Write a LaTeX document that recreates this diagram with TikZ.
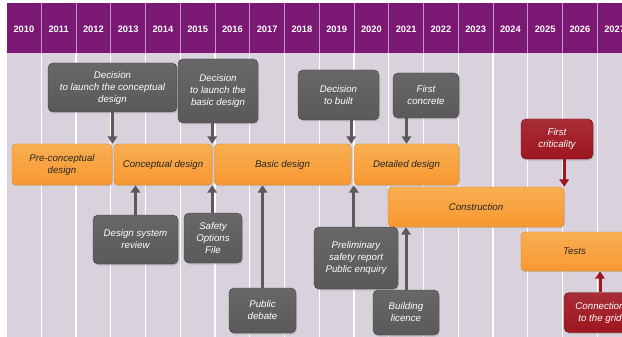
\documentclass[tikz,border=0pt]{standalone}
\usepackage{fontspec}
\setmainfont{Liberation Sans}
\usepackage{tikz}
\usetikzlibrary{arrows.meta,shadows}
\definecolor{bandpurple}{HTML}{7B1874}
\definecolor{bglilac}{HTML}{D9D1DB}
\definecolor{boxgray}{HTML}{5A5A5A}
\definecolor{phaseorange}{HTML}{F7A033}
\definecolor{keyred}{HTML}{9E1620}

\begin{document}
\begin{tikzpicture}[x=1pt,y=-1pt,
    every node/.style={font=\fontsize{9.7}{12}\selectfont\itshape, align=center, inner sep=2pt},
    year/.style={font=\fontsize{9.3}{11}\selectfont\bfseries, text=white},
    phase/.style={rectangle, rounded corners=4pt, draw=phaseorange!85!black, top color=phaseorange!85!white, bottom color=phaseorange!95!red, text=black!85, drop shadow={opacity=0.25, shadow xshift=0.8pt, shadow yshift=-1.2pt}},
    event/.style={rectangle, rounded corners=5pt, draw=boxgray!70!black, top color=boxgray!92!white, bottom color=boxgray, text=white, drop shadow={opacity=0.3, shadow xshift=1pt, shadow yshift=-1.5pt}},
    keyevent/.style={event, draw=keyred!70!black, top color=keyred!90!white, bottom color=keyred},
    link/.style={draw=boxgray, line width=3pt, -{Triangle[width=9.5pt,length=7.5pt]}},
    keylink/.style={link, draw=keyred}]
                            \useasboundingbox (0,0) rectangle (622,337);
                            \clip (0,0) rectangle (622,337);
                            % Background
                            \fill[bglilac] (7,53) rectangle (622,337);
                            \fill[bandpurple] (7,3) rectangle (622,53);
                            \foreach \k in {1,...,17} {
                              \draw[white, line width=1pt, opacity=0.55] ({6.5+34.75*\k},3) -- ({6.5+34.75*\k},53);
                              \draw[white, line width=1.3pt] ({6.5+34.75*\k},53) -- ({6.5+34.75*\k},337);
                            }
                            % Years
                            \foreach \y [count=\k from 0] in {2010,...,2027} {
                              \node[year] (yr\k) at ({6.5+34.75*\k+17.4},29) {\y};
                            }
                            % Phases
                            \node[phase, minimum width=100pt, minimum height=41pt] (pcd) at (62,164.5) {Pre-conceptual\\design};
                            \node[phase, minimum width=98pt, minimum height=41pt] (cd) at (163,164.5) {Conceptual design};
                            \node[phase, minimum width=137pt, minimum height=41pt] (bd) at (282.5,164.5) {Basic design};
                            \node[phase, minimum width=105pt, minimum height=41pt] (dd) at (406.5,164.5) {Detailed design};
                            \node[phase, minimum width=176pt, minimum height=40pt] (con) at (476,207) {Construction};
                            \node[phase, minimum width=107pt, minimum height=39pt] (tst) at (574.5,251.5) {Tests};
                            % Milestones
                            \node[event, minimum width=129pt, minimum height=49pt] (dlcd) at (112.5,87.5) {Decision\\to launch the conceptual\\design};
                            \node[event, minimum width=80pt, minimum height=64pt] (dlbd) at (218,91) {Decision\\to launch the\\basic design};
                            \node[event, minimum width=81pt, minimum height=50pt] (dtb) at (338.5,95) {Decision\\to built};
                            \node[event, minimum width=66pt, minimum height=45pt] (fc) at (426,95.5) {First\\concrete};
                            \node[keyevent, minimum width=72pt, minimum height=40pt] (fcr) at (557,139) {First\\criticality};
                            \node[event, minimum width=85pt, minimum height=49pt] (dsr) at (135.5,239.5) {Design system\\review};
                            \node[event, minimum width=58pt, minimum height=50pt] (sof) at (213,238) {Safety\\Options\\File};
                            \node[event, minimum width=67pt, minimum height=45pt] (pd) at (262.5,310.5) {Public\\debate};
                            \node[event, minimum width=84pt, minimum height=62pt] (psr) at (356,258) {Preliminary\\safety report\\Public enquiry};
                            \node[event, minimum width=66pt, minimum height=45pt] (bl) at (406,312.5) {Building\\licence};
                            \node[keyevent, minimum width=72pt, minimum height=40pt] (cg) at (600,312.5) {Connection\\to the grid};
                            % Arrows
                            \draw[link] (dlcd.south) -- (dlcd.south |- cd.north);
                            \draw[link] (dlbd.south -| cd.north east) -- (cd.north east);
                            \draw[link] (dtb.south -| bd.north east) -- (bd.north east);
                            \draw[link] (fc.south -| dd.north) -- (dd.north);
                            \draw[keylink] (fcr.south -| con.north east) -- (con.north east);
                            \draw[link] (dsr.north) -- (dsr.north |- cd.south);
                            \draw[link] (sof.north -| cd.south east) -- (cd.south east);
                            \draw[link] (pd.north) -- (pd.north |- bd.south);
                            \draw[link] (psr.north -| dd.south west) -- (dd.south west);
                            \draw[link] (bl.north) -- (bl.north |- con.south);
                            \draw[keylink] (cg.north) -- (cg.north |- tst.south);
                        \end{tikzpicture}
\end{document}
